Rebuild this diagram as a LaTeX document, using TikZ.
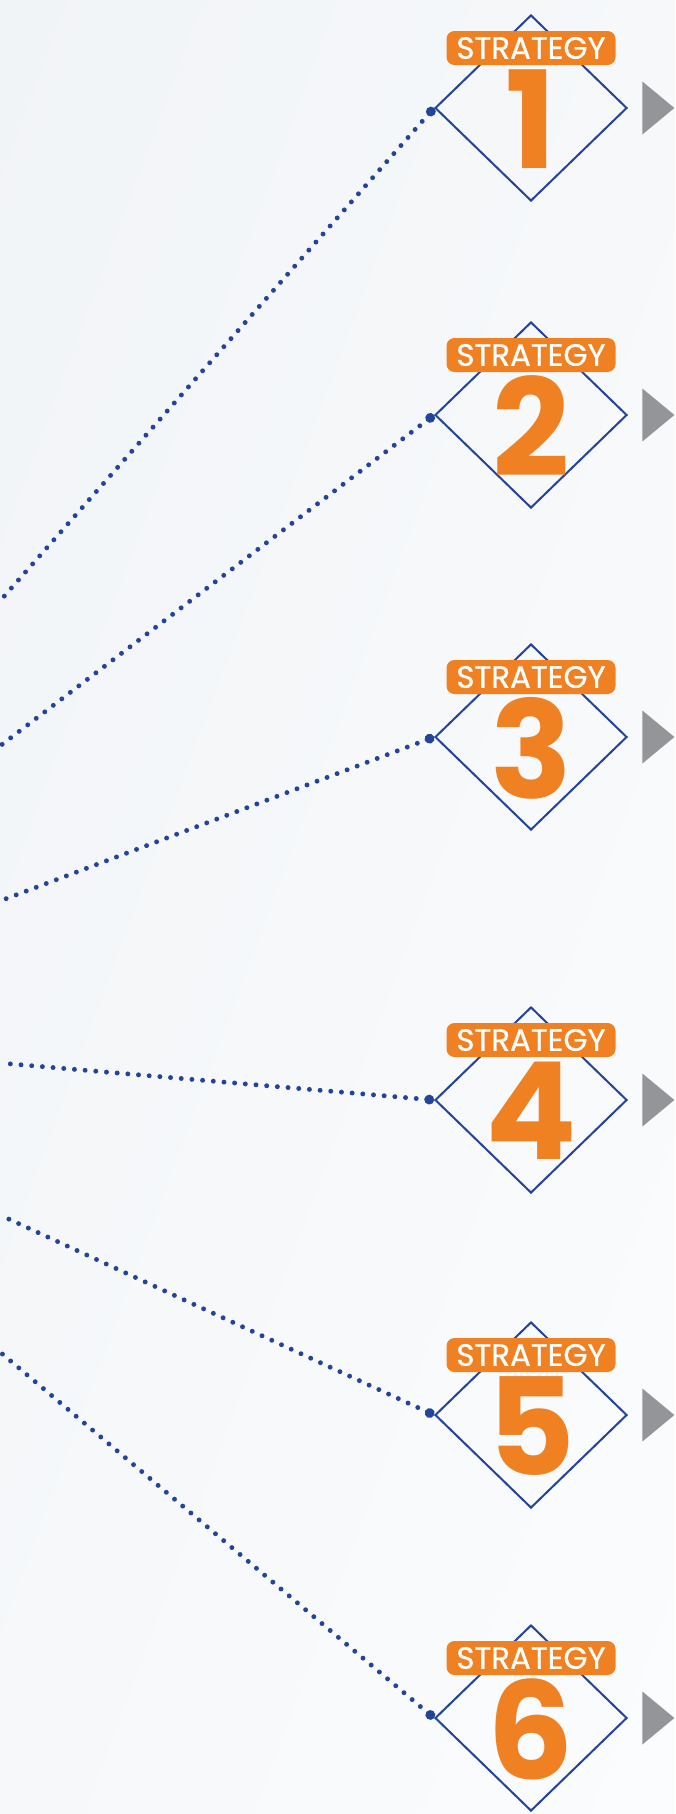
\documentclass[tikz,border=0pt]{standalone}
\usepackage{fontspec}
\newfontfamily\tagfont{Poppins}[FakeBold=0.6]
\newfontfamily\numfont{Poppins}
\usetikzlibrary{positioning}
\usetikzlibrary{shapes.geometric}
\usetikzlibrary{arrows.meta}
\usetikzlibrary{shadings}

\definecolor{stratorange}{RGB}{240,129,34}
\definecolor{stratblue}{RGB}{35,68,155}
\definecolor{arrgray}{RGB}{148,149,153}
\definecolor{bgleft}{RGB}{241,244,247}
\definecolor{bgmid}{RGB}{246,248,250}
\definecolor{bgright}{RGB}{251,252,253}

\tikzset{
  box/.style={diamond,draw=stratblue,line width=1.15pt,minimum width=3.84cm,minimum height=3.72cm,inner sep=0pt},
  tag/.style={rectangle,rounded corners=0.16cm,fill=stratorange,text=white,minimum width=3.38cm,minimum height=0.68cm,inner sep=0pt,font=\tagfont\fontsize{17.6}{17.6}\selectfont},
  num/.style={text=stratorange,inner sep=0pt,font=\numfont\bfseries\fontsize{77}{77}\selectfont},
  arr/.style={isosceles triangle,isosceles triangle stretches,fill=arrgray,minimum width=1.06cm,minimum height=0.64cm,inner sep=0pt},
  dots/.style={stratblue,line width=2.8pt,line cap=round,dash pattern=on 0pt off 6.1pt,{Circle[length=0.19cm]}-}
}

\begin{document}
\begin{tikzpicture}
\shade[upper left=bgleft,upper right=bgmid,lower left=bgmid,lower right=bgright] (0,0) rectangle (13.5,-36.28);
\useasboundingbox (0,0) rectangle (13.5,-36.28);

\node[box](d1) at (10.62,-2.16){};
\node[box](d2) at (10.62,-8.30){};
\node[box](d3) at (10.62,-14.74){};
\node[box](d4) at (10.62,-22.00){};
\node[box](d5) at (10.62,-28.30){};
\node[box](d6) at (10.62,-34.36){};

\coordinate (d1l) at (0,-12.02);
\coordinate (d2l) at (0,-14.92);
\coordinate (d3l) at (0,-18.02);
\coordinate (d4l) at (0,-21.26);
\coordinate (d5l) at (0,-24.30);
\coordinate (d6l) at (0,-27.04);

\draw[dots] (d1.west) -- (d1l);
\draw[dots] (d2.west) -- (d2l);
\draw[dots] (d3.west) -- (d3l);
\draw[dots] (d4.west) -- (d4l);
\draw[dots] (d5.west) -- (d5l);
\draw[dots] (d6.west) -- (d6l);

\node[tag](d1text) at ([yshift=1.2cm]d1.center){STRATEGY};
\node[tag](d2text) at ([yshift=1.2cm]d2.center){STRATEGY};
\node[tag](d3text) at ([yshift=1.2cm]d3.center){STRATEGY};
\node[tag](d4text) at ([yshift=1.2cm]d4.center){STRATEGY};
\node[tag](d5text) at ([yshift=1.2cm]d5.center){STRATEGY};
\node[tag](d6text) at ([yshift=1.2cm]d6.center){STRATEGY};

\node[num](d1num) at ([yshift=-0.22cm]d1.center){1};
\node[num](d2num) at ([yshift=-0.22cm]d2.center){2};
\node[num](d3num) at ([yshift=-0.22cm]d3.center){3};
\node[num](d4num) at ([yshift=-0.22cm]d4.center){4};
\node[num](d5num) at ([yshift=-0.22cm]d5.center){5};
\node[num](d6num) at ([yshift=-0.22cm]d6.center){6};

\node[arr, right = 0.28cm of d1](d1arr){};
\node[arr, right = 0.28cm of d2](d2arr){};
\node[arr, right = 0.28cm of d3](d3arr){};
\node[arr, right = 0.28cm of d4](d4arr){};
\node[arr, right = 0.28cm of d5](d5arr){};
\node[arr, right = 0.28cm of d6](d6arr){};

\end{tikzpicture}
\end{document}
